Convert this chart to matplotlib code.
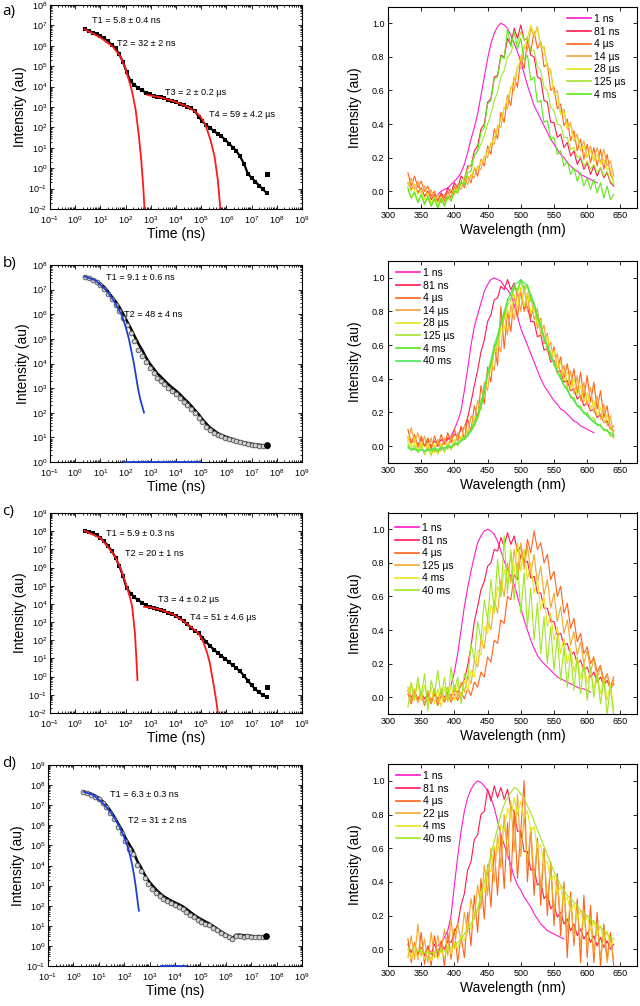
import numpy as np
import matplotlib.pyplot as plt
from matplotlib.ticker import LogLocator, NullFormatter, FormatStrFormatter, LogFormatterSciNotation

plt.rcParams['font.family'] = ['Liberation Sans', 'DejaVu Sans']
plt.rcParams['mathtext.default'] = 'regular'
plt.rcParams['axes.linewidth'] = 0.8

nan = np.nan

# ---- decay data (log10 of time in ns, log10 of intensity) ----
log_t = [0.38, 0.54, 0.70, 0.85, 1.00, 1.15, 1.30, 1.45, 1.60, 1.75,
         1.90, 2.04, 2.20, 2.34, 2.51, 2.65, 2.80, 2.95, 3.11, 3.26,
         3.40, 3.54, 3.70, 3.85, 4.00, 4.15, 4.30, 4.45, 4.60, 4.75,
         4.90, 5.04, 5.20, 5.34, 5.51, 5.65, 5.80, 5.95, 6.11, 6.26,
         6.40, 6.54, 6.70, 6.85, 7.00, 7.15, 7.30, 7.45, 7.60]

a_log_I = [6.81, 6.73, 6.65, 6.57, 6.48, 6.36, 6.22, 6.06, 5.88, 5.58,
           5.20, 4.70, 4.27, 4.08, 3.92, 3.81, 3.71, 3.63, 3.56, 3.51,
           3.47, 3.42, 3.36, 3.30, 3.24, 3.15, 3.08, 3.01, 2.93, 2.80,
           2.53, 2.30, 2.11, 1.98, 1.82, 1.69, 1.56, 1.40, 1.20, 1.01,
           0.84, 0.58, 0.22, -0.27, -0.47, -0.66, -0.85, -1.03, -1.23]
a_outlier_log_t = [7.60]
a_outlier_log_I = [-0.28]
a_fit1_log_t = [0.38, 1.00, 1.49, 1.80, 1.97, 2.13, 2.26, 2.40, 2.53, 2.62, 2.70, 2.75]
a_fit1_log_I = [6.81, 6.40, 5.96, 5.47, 4.98, 4.32, 3.75, 2.85, 1.55, 0.40, -0.90, -2.00]
a_fit2_log_t = [2.86, 3.39, 3.97, 4.44, 4.77, 4.97, 5.17, 5.37, 5.53, 5.66, 5.76]
a_fit2_log_I = [3.59, 3.47, 3.26, 3.02, 2.77, 2.53, 2.12, 1.38, 0.57, -0.58, -2.00]

b_top_log_I = [7.53, 7.49, 7.42, 7.34, 7.24, 7.11, 6.93, 6.72, 6.53, 6.30,
               6.02, 5.75, 5.44, 5.15, 4.80, 4.56, 4.27, 4.01, 3.80, 3.60,
               3.46, 3.32, 3.15, 3.02, 2.90, 2.76, 2.60, 2.45, 2.29, 2.11,
               1.94, 1.75, 1.56, 1.41, 1.28, 1.18, 1.10, 1.04, 0.98, 0.93,
               0.88, 0.84, 0.80, 0.77, 0.74, 0.72, 0.70, 0.68, 0.68]
b_low_log_I = [7.53, 7.47, 7.39, 7.30, 7.18, 7.03, 6.83, 6.60, 6.39, 6.14,
               5.84, 5.55, 5.22, 4.92, 4.56, 4.32, 4.05, 3.81, 3.61, 3.43,
               3.30, 3.17, 3.00, 2.87, 2.75, 2.61, 2.45, 2.30, 2.14, 1.97,
               1.80, 1.62, 1.44, 1.30, 1.18, 1.10, 1.04, 0.98, 0.93, 0.88,
               0.84, 0.80, 0.76, 0.73, 0.70, 0.68, 0.66, 0.64, 0.66]
b_fit_log_t = [0.38, 0.80, 1.21, 1.50, 1.83, 2.00, 2.13, 2.23, 2.33, 2.41, 2.49, 2.57, 2.65, 2.73]
b_fit_log_I = [7.53, 7.38, 7.00, 6.60, 6.00, 5.50, 5.00, 4.50, 4.00, 3.50, 3.00, 2.60, 2.30, 2.01]
b_fit2_log_t = [1.93, 4.97]
b_fit2_log_I = [0.0, 0.0]

c_log_I = [8.01, 7.96, 7.89, 7.79, 7.63, 7.44, 7.21, 6.91, 6.55, 6.10,
           5.52, 4.88, 4.57, 4.37, 4.20, 4.06, 3.93, 3.84, 3.77, 3.71,
           3.66, 3.60, 3.52, 3.43, 3.32, 3.20, 3.05, 2.87, 2.70, 2.53,
           2.38, 2.15, 1.91, 1.70, 1.48, 1.31, 1.14, 0.97, 0.80, 0.62,
           0.46, 0.30, 0.05, -0.22, -0.47, -0.70, -0.86, -1.02, -1.12]
c_outlier_log_t = [7.60]
c_outlier_log_I = [-0.58]
c_fit1_log_t = [0.38, 1.01, 1.54, 1.80, 2.00, 2.20, 2.26, 2.33, 2.37, 2.43, 2.47]
c_fit1_log_I = [8.01, 7.62, 6.71, 5.97, 5.15, 4.23, 3.86, 2.94, 2.39, 0.93, -0.19]
c_fit2_log_t = [2.73, 3.00, 3.40, 3.92, 4.31, 4.64, 4.85, 4.97, 5.10, 5.24, 5.34, 5.43, 5.50, 5.57, 5.62, 5.66]
c_fit2_log_I = [3.84, 3.80, 3.68, 3.40, 3.04, 2.67, 2.45, 2.20, 1.85, 1.29, 0.75, 0.05, -0.50, -1.09, -1.55, -2.00]

d_top_log_I = [7.68, 7.63, 7.57, 7.48, 7.37, 7.20, 7.01, 6.74, 6.45, 6.12,
               5.79, 5.40, 5.05, 4.77, 4.23, 3.94, 3.56, 3.26, 3.01, 2.80,
               2.63, 2.48, 2.36, 2.25, 2.16, 2.07, 1.97, 1.84, 1.69, 1.55,
               1.42, 1.32, 1.21, 1.12, 0.98, 0.86, 0.73, 0.61, 0.50, 0.38,
               0.55, 0.56, 0.52, 0.53, 0.50, 0.47, 0.49, 0.47, 0.50]
d_low_log_I = [7.68, 7.60, 7.52, 7.41, 7.29, 7.10, 6.89, 6.60, 6.29, 5.94,
               5.60, 5.20, 4.84, 4.55, 4.01, 3.72, 3.36, 3.07, 2.83, 2.63,
               2.47, 2.33, 2.22, 2.11, 2.02, 1.93, 1.83, 1.70, 1.56, 1.42,
               1.30, 1.20, 1.10, 1.02, 0.89, 0.78, 0.66, 0.55, 0.45, 0.33,
               0.50, 0.50, 0.45, 0.47, 0.44, 0.42, 0.44, 0.42, 0.47]
d_fit_log_t = [0.41, 0.80, 1.24, 1.55, 1.79, 1.97, 2.12, 2.23, 2.32, 2.39, 2.45, 2.50, 2.55, 2.58]
d_fit_log_I = [7.67, 7.50, 7.00, 6.50, 6.00, 5.50, 5.00, 4.50, 4.00, 3.50, 3.00, 2.50, 2.00, 1.75]
d_fit2_log_t = [3.43, 4.42]
d_fit2_log_I = [-1.0, -1.0]

# ---- spectra (normalised intensity vs wavelength in nm) ----
wl = [330, 335, 340, 345, 350, 355, 360, 365, 370, 375,
      380, 385, 390, 395, 400, 405, 410, 415, 420, 425,
      430, 435, 440, 445, 450, 455, 460, 465, 470, 475,
      480, 485, 490, 495, 500, 505, 510, 515, 520, 525,
      530, 535, 540, 545, 550, 555, 560, 565, 570, 575,
      580, 585, 590, 595, 600, 605, 610, 615, 620, 625,
      630, 635, 640]

a_labels = ['1 ns', '81 ns', '4 µs', '14 µs', '28 µs', '125 µs', '4 ms']
a_1ns = [nan, nan, nan, nan, nan, nan, nan, nan, nan, -0.02,
         0.00, 0.01, 0.02, 0.04, 0.06, 0.08, 0.11, 0.16, 0.23, 0.31,
         0.38, 0.46, 0.57, 0.68, 0.79, 0.88, 0.94, 0.98, 1.00, 0.99,
         0.97, 0.93, 0.88, 0.83, 0.77, 0.70, 0.63, 0.57, 0.51, 0.47,
         0.43, 0.39, 0.35, 0.31, 0.28, 0.25, 0.22, 0.20, 0.17, 0.15,
         0.13, 0.12, 0.10, 0.09, 0.08, 0.07, 0.06, 0.05, nan, nan,
         nan, nan, nan]
a_81ns = [0.05, 0.01, 0.04, -0.01, 0.02, -0.03, 0.00, -0.05, -0.02, -0.06,
          -0.01, -0.04, 0.02, -0.01, 0.05, 0.02, 0.09, 0.07, 0.15, 0.15,
          0.24, 0.27, 0.37, 0.40, 0.53, 0.55, 0.68, 0.69, 0.81, 0.80,
          0.91, 0.87, 0.97, 0.91, 0.99, 0.90, 0.91, 0.81, 0.80, 0.68,
          0.67, 0.54, 0.53, 0.41, 0.41, 0.32, 0.34, 0.26, 0.29, 0.21,
          0.24, 0.16, 0.20, 0.13, 0.17, 0.10, 0.15, 0.09, 0.14, 0.08,
          0.11, 0.05, 0.03]
a_4us = [0.11, 0.03, 0.09, 0.02, 0.06, 0.00, 0.03, -0.03, 0.00, -0.06,
         -0.02, -0.06, 0.00, -0.04, 0.03, -0.01, 0.06, 0.02, 0.09, 0.05,
         0.14, 0.09, 0.19, 0.15, 0.27, 0.22, 0.37, 0.31, 0.47, 0.41,
         0.57, 0.51, 0.68, 0.62, 0.80, 0.73, 0.90, 0.83, 0.95, 0.85,
         0.89, 0.74, 0.76, 0.60, 0.62, 0.49, 0.52, 0.39, 0.43, 0.30,
         0.36, 0.24, 0.31, 0.19, 0.28, 0.17, 0.26, 0.15, 0.25, 0.13,
         0.22, 0.10, 0.06]
a_14us = [0.03, 0.08, 0.01, 0.06, -0.01, 0.03, -0.03, 0.01, -0.06, -0.02,
          -0.07, -0.02, -0.05, 0.01, -0.02, 0.04, 0.01, 0.07, 0.04, 0.10,
          0.08, 0.15, 0.13, 0.21, 0.20, 0.29, 0.28, 0.39, 0.38, 0.50,
          0.49, 0.62, 0.60, 0.74, 0.73, 0.86, 0.84, 0.97, 0.92, 0.98,
          0.86, 0.86, 0.74, 0.72, 0.58, 0.60, 0.46, 0.49, 0.37, 0.41,
          0.30, 0.34, 0.24, 0.30, 0.20, 0.27, 0.18, 0.26, 0.17, 0.25,
          0.15, 0.18, 0.09]
a_28us = [0.05, 0.00, 0.04, -0.02, 0.01, -0.05, -0.01, -0.07, -0.03, -0.08,
          -0.04, -0.08, -0.03, -0.05, 0.01, -0.01, 0.05, 0.04, 0.09, 0.08,
          0.14, 0.13, 0.18, 0.19, 0.24, 0.27, 0.32, 0.37, 0.43, 0.49,
          0.55, 0.61, 0.67, 0.73, 0.79, 0.86, 0.91, 0.99, 0.93, 0.97,
          0.86, 0.85, 0.73, 0.71, 0.58, 0.57, 0.46, 0.47, 0.38, 0.39,
          0.30, 0.32, 0.25, 0.27, 0.20, 0.24, 0.18, 0.22, 0.16, 0.19,
          0.13, 0.14, 0.05]
a_125us = [0.01, -0.04, 0.00, -0.06, -0.02, -0.07, -0.04, -0.09, -0.05, -0.10,
           -0.05, -0.08, -0.03, -0.05, 0.00, 0.01, 0.06, 0.08, 0.13, 0.16,
           0.21, 0.24, 0.28, 0.33, 0.40, 0.46, 0.54, 0.59, 0.68, 0.72,
           0.80, 0.82, 0.89, 0.88, 0.95, 0.90, 0.92, 0.84, 0.84, 0.74,
           0.72, 0.62, 0.60, 0.50, 0.48, 0.40, 0.39, 0.32, 0.32, 0.25,
           0.26, 0.20, 0.21, 0.15, 0.18, 0.13, 0.16, 0.11, 0.14, 0.09,
           0.12, 0.06, 0.04]
a_4ms = [0.02, -0.04, -0.01, -0.07, -0.02, -0.08, -0.03, -0.09, -0.04, -0.10,
         -0.04, -0.09, -0.03, -0.06, 0.00, -0.01, 0.05, 0.04, 0.11, 0.12,
         0.21, 0.24, 0.35, 0.38, 0.52, 0.54, 0.67, 0.68, 0.80, 0.79,
         0.97, 0.86, 0.95, 0.85, 0.91, 0.78, 0.81, 0.66, 0.68, 0.53,
         0.54, 0.41, 0.42, 0.31, 0.32, 0.22, 0.24, 0.15, 0.18, 0.10,
         0.14, 0.06, 0.11, 0.03, 0.08, 0.01, 0.07, -0.01, 0.05, -0.04,
         0.03, -0.05, -0.02]

b_labels = ['1 ns', '81 ns', '4 µs', '14 µs', '28 µs', '125 µs', '4 ms', '40 ms']
b_1ns = [nan, nan, nan, nan, nan, nan, nan, nan, nan, 0.00,
         0.01, 0.02, 0.04, 0.06, 0.10, 0.15, 0.21, 0.33, 0.46, 0.60,
         0.71, 0.78, 0.85, 0.92, 0.96, 0.99, 1.00, 0.99, 0.98, 0.95,
         0.93, 0.90, 0.84, 0.77, 0.70, 0.65, 0.60, 0.55, 0.50, 0.45,
         0.40, 0.36, 0.33, 0.30, 0.27, 0.25, 0.22, 0.21, 0.19, 0.17,
         0.15, 0.14, 0.12, 0.11, 0.10, 0.09, 0.08, nan, nan, nan,
         nan, nan, nan]
b_81ns = [0.05, 0.02, 0.04, 0.01, 0.04, 0.00, 0.03, 0.00, 0.03, 0.01,
          0.04, 0.02, 0.05, 0.04, 0.07, 0.06, 0.10, 0.11, 0.17, 0.26,
          0.36, 0.45, 0.56, 0.63, 0.74, 0.78, 0.87, 0.88, 0.95, 0.93,
          0.99, 0.93, 0.97, 0.89, 0.91, 0.82, 0.83, 0.74, 0.74, 0.65,
          0.66, 0.57, 0.58, 0.50, 0.51, 0.44, 0.45, 0.38, 0.39, 0.33,
          0.34, 0.28, 0.30, 0.24, 0.26, 0.21, 0.22, 0.17, 0.19, 0.14,
          0.15, 0.10, 0.09]
b_4us = [0.10, 0.02, 0.07, -0.01, 0.06, 0.00, 0.05, -0.02, 0.06, 0.00,
         0.07, 0.01, 0.08, 0.02, 0.10, 0.03, 0.12, 0.04, 0.16, 0.09,
         0.24, 0.16, 0.36, 0.25, 0.47, 0.38, 0.60, 0.48, 0.83, 0.58,
         0.80, 0.68, 0.90, 0.76, 0.94, 0.80, 0.91, 0.76, 0.85, 0.70,
         0.76, 0.61, 0.67, 0.52, 0.59, 0.45, 0.53, 0.40, 0.49, 0.36,
         0.46, 0.31, 0.44, 0.28, 0.42, 0.26, 0.38, 0.22, 0.33, 0.17,
         0.24, 0.10, 0.12]
b_14us = [0.03, 0.11, 0.02, 0.08, -0.01, 0.06, -0.03, 0.05, -0.04, 0.04,
          -0.03, 0.05, -0.02, 0.06, 0.00, 0.08, 0.03, 0.12, 0.07, 0.18,
          0.14, 0.27, 0.22, 0.38, 0.33, 0.50, 0.45, 0.62, 0.56, 0.80,
          0.66, 0.84, 0.75, 0.92, 0.80, 0.95, 0.80, 0.90, 0.75, 0.82,
          0.66, 0.72, 0.56, 0.62, 0.48, 0.55, 0.41, 0.48, 0.35, 0.45,
          0.31, 0.42, 0.27, 0.38, 0.24, 0.35, 0.20, 0.30, 0.16, 0.25,
          0.12, 0.18, 0.05]
b_28us = [0.06, -0.01, 0.05, -0.03, 0.03, -0.05, 0.02, -0.06, 0.01, -0.05,
          0.02, -0.04, 0.03, -0.02, 0.04, 0.00, 0.06, 0.04, 0.10, 0.09,
          0.17, 0.18, 0.28, 0.30, 0.42, 0.44, 0.56, 0.57, 0.70, 0.69,
          0.81, 0.77, 0.90, 0.82, 0.94, 0.83, 0.91, 0.79, 0.84, 0.71,
          0.75, 0.62, 0.66, 0.53, 0.57, 0.45, 0.50, 0.39, 0.44, 0.34,
          0.40, 0.30, 0.36, 0.26, 0.32, 0.22, 0.27, 0.18, 0.23, 0.14,
          0.19, 0.10, 0.08]
b_125us = [0.02, -0.03, 0.01, -0.04, 0.00, -0.05, -0.01, -0.05, -0.01, -0.04,
           0.00, -0.03, 0.01, -0.02, 0.02, 0.01, 0.04, 0.04, 0.07, 0.09,
           0.13, 0.17, 0.24, 0.31, 0.42, 0.47, 0.58, 0.62, 0.72, 0.76,
           0.84, 0.86, 0.94, 0.91, 0.98, 0.92, 0.95, 0.86, 0.85, 0.75,
           0.72, 0.63, 0.60, 0.52, 0.50, 0.43, 0.42, 0.36, 0.35, 0.29,
           0.29, 0.24, 0.24, 0.19, 0.20, 0.16, 0.17, 0.12, 0.13, 0.09,
           0.10, 0.06, 0.05]
b_4ms = [0.00, -0.02, -0.01, -0.03, -0.02, -0.03, -0.02, -0.03, -0.02, -0.03,
         -0.01, -0.02, 0.00, -0.01, 0.01, 0.01, 0.03, 0.04, 0.06, 0.09,
         0.12, 0.17, 0.23, 0.32, 0.43, 0.49, 0.58, 0.64, 0.73, 0.78,
         0.86, 0.88, 0.95, 0.93, 0.99, 0.94, 0.96, 0.88, 0.84, 0.76,
         0.71, 0.64, 0.59, 0.53, 0.49, 0.44, 0.41, 0.36, 0.34, 0.29,
         0.28, 0.24, 0.23, 0.20, 0.19, 0.16, 0.15, 0.13, 0.12, 0.10,
         0.09, 0.07, 0.06]
b_40ms = [-0.01, -0.02, -0.02, -0.03, -0.02, -0.03, -0.02, -0.02, -0.01, -0.02,
          -0.01, -0.01, 0.00, 0.00, 0.01, 0.02, 0.03, 0.05, 0.07, 0.10,
          0.14, 0.19, 0.26, 0.34, 0.44, 0.51, 0.60, 0.66, 0.74, 0.80,
          0.87, 0.91, 0.96, 0.97, 0.99, 0.97, 0.95, 0.90, 0.85, 0.78,
          0.72, 0.65, 0.60, 0.54, 0.49, 0.44, 0.40, 0.36, 0.33, 0.30,
          0.27, 0.24, 0.22, 0.20, 0.18, 0.16, 0.14, 0.13, 0.12, 0.10,
          0.09, 0.08, 0.07]

c_labels = ['1 ns', '81 ns', '4 µs', '125 µs', '4 ms', '40 ms']
c_1ns = [nan, nan, nan, nan, nan, nan, nan, nan, nan, nan,
         nan, nan, nan, 0.07, 0.15, 0.26, 0.40, 0.54, 0.65, 0.75,
         0.84, 0.92, 0.96, 0.99, 1.00, 0.99, 0.97, 0.93, 0.87, 0.81,
         0.76, 0.72, 0.67, 0.60, 0.53, 0.46, 0.40, 0.34, 0.29, 0.25,
         0.22, 0.20, 0.18, 0.16, 0.14, 0.12, 0.11, 0.10, 0.09, 0.08,
         0.07, 0.06, 0.05, 0.05, 0.04, 0.03, nan, nan, nan, nan,
         nan, nan, nan]
c_81ns = [0.04, 0.00, 0.03, -0.01, 0.03, -0.01, 0.02, -0.02, 0.02, -0.01,
          0.03, 0.00, 0.03, 0.01, 0.04, 0.03, 0.07, 0.10, 0.19, 0.30,
          0.45, 0.54, 0.64, 0.69, 0.78, 0.80, 0.88, 0.87, 0.95, 0.90,
          0.98, 0.91, 0.96, 0.87, 0.90, 0.80, 0.81, 0.71, 0.72, 0.62,
          0.62, 0.53, 0.53, 0.45, 0.45, 0.37, 0.38, 0.31, 0.32, 0.25,
          0.27, 0.20, 0.22, 0.16, 0.18, 0.12, 0.15, 0.09, 0.12, 0.07,
          0.10, 0.05, 0.08]
c_4us = [0.02, -0.04, 0.03, -0.03, 0.02, -0.05, 0.01, -0.04, 0.02, -0.05,
         0.01, -0.03, 0.02, -0.03, 0.02, -0.02, 0.03, -0.01, 0.05, 0.01,
         0.09, 0.06, 0.15, 0.12, 0.24, 0.21, 0.34, 0.32, 0.46, 0.44,
         0.60, 0.58, 0.73, 0.70, 0.85, 0.80, 0.94, 0.86, 0.99, 0.88,
         0.92, 0.80, 0.85, 0.70, 0.75, 0.60, 0.66, 0.50, 0.56, 0.41,
         0.47, 0.33, 0.38, 0.26, 0.30, 0.20, 0.24, 0.15, 0.19, 0.10,
         0.14, 0.06, 0.12]
c_125us = [0.06, -0.02, 0.05, -0.03, 0.04, -0.04, 0.04, -0.03, 0.05, -0.03,
           0.05, -0.02, 0.06, -0.01, 0.07, 0.00, 0.09, 0.03, 0.13, 0.08,
           0.22, 0.18, 0.34, 0.29, 0.46, 0.40, 0.58, 0.50, 0.70, 0.60,
           0.80, 0.68, 0.88, 0.74, 0.92, 0.76, 0.90, 0.74, 0.85, 0.68,
           0.78, 0.61, 0.70, 0.53, 0.62, 0.45, 0.54, 0.38, 0.46, 0.31,
           0.39, 0.25, 0.33, 0.20, 0.28, 0.15, 0.23, 0.11, 0.18, 0.07,
           0.14, 0.03, 0.10]
c_4ms = [0.02, 0.09, 0.00, 0.08, -0.02, 0.07, -0.03, 0.06, -0.04, 0.05,
         -0.06, 0.06, -0.03, 0.07, -0.02, 0.08, 0.00, 0.10, 0.04, 0.16,
         0.12, 0.28, 0.25, 0.42, 0.38, 0.55, 0.50, 0.66, 0.60, 0.76,
         0.68, 0.86, 0.74, 0.92, 0.75, 0.88, 0.70, 0.80, 0.62, 0.70,
         0.52, 0.60, 0.42, 0.50, 0.34, 0.42, 0.26, 0.35, 0.20, 0.29,
         0.15, 0.24, 0.11, 0.20, 0.08, 0.17, 0.05, 0.14, 0.02, 0.11,
         -0.02, 0.08, -0.08]
c_40ms = [-0.06, 0.08, -0.02, 0.12, 0.00, 0.14, -0.08, 0.10, 0.02, 0.16,
          0.00, 0.12, -0.02, 0.18, 0.04, 0.12, -0.04, 0.14, 0.10, 0.32,
          0.22, 0.45, 0.34, 0.58, 0.46, 0.70, 0.52, 0.82, 0.60, 0.96,
          0.62, 0.88, 0.58, 0.80, 0.50, 0.74, 0.42, 0.65, 0.34, 0.56,
          0.26, 0.48, 0.20, 0.42, 0.16, 0.36, 0.10, 0.30, 0.06, 0.26,
          0.04, 0.24, 0.02, 0.20, -0.02, 0.18, 0.00, 0.14, -0.04, 0.10,
          -0.10, 0.06, -0.12]

d_labels = ['1 ns', '81 ns', '4 µs', '22 µs', '4 ms', '40 ms']
d_1ns = [nan, nan, nan, nan, nan, nan, nan, nan, nan, 0.02,
         0.04, 0.07, 0.11, 0.20, 0.38, 0.55, 0.70, 0.82, 0.90, 0.95,
         0.98, 1.00, 0.99, 0.97, 0.94, 0.90, 0.84, 0.76, 0.68, 0.62,
         0.56, 0.50, 0.43, 0.38, 0.35, 0.31, 0.28, 0.25, 0.21, 0.18,
         0.15, 0.13, 0.11, 0.10, 0.09, 0.08, 0.07, 0.06, nan, nan,
         nan, nan, nan, nan, nan, nan, nan, nan, nan, nan,
         nan, nan, nan]
d_81ns = [0.03, -0.02, 0.02, -0.03, 0.01, -0.04, 0.02, -0.03, 0.03, -0.02,
          0.03, 0.00, 0.05, 0.04, 0.10, 0.15, 0.26, 0.33, 0.47, 0.52,
          0.65, 0.68, 0.80, 0.82, 0.95, 0.88, 0.97, 0.90, 0.96, 0.89,
          0.95, 0.84, 0.82, 0.70, 0.70, 0.58, 0.58, 0.47, 0.48, 0.38,
          0.40, 0.30, 0.33, 0.24, 0.27, 0.19, 0.22, 0.15, 0.18, 0.11,
          0.15, 0.08, 0.12, 0.06, 0.10, 0.04, 0.08, 0.02, 0.07, 0.01,
          0.05, 0.00, 0.03]
d_4us = [0.06, -0.08, 0.04, -0.06, 0.10, -0.09, 0.02, -0.10, 0.08, -0.05,
         0.05, -0.10, 0.10, -0.06, 0.12, -0.08, 0.08, -0.05, 0.22, 0.02,
         0.32, 0.10, 0.42, 0.18, 0.50, 0.25, 0.60, 0.32, 0.68, 0.36,
         0.75, 0.40, 0.82, 0.42, 0.70, 1.00, 0.40, 0.72, 0.32, 0.66,
         0.26, 0.60, 0.20, 0.52, 0.14, 0.45, 0.08, 0.40, -0.05, 0.34,
         0.02, 0.30, -0.08, 0.32, -0.05, 0.26, -0.08, 0.22, -0.10, 0.15,
         -0.06, 0.10, -0.10]
d_22us = [-0.05, 0.08, -0.06, 0.15, -0.04, 0.06, -0.08, 0.10, -0.05, 0.08,
          -0.02, 0.12, -0.04, 0.18, 0.00, 0.16, 0.04, 0.22, 0.10, 0.30,
          0.18, 0.38, 0.24, 0.50, 0.32, 0.60, 0.40, 0.68, 0.48, 0.80,
          0.55, 0.88, 0.58, 0.92, 0.55, 0.80, 0.50, 0.72, 0.42, 0.64,
          0.36, 0.58, 0.28, 0.50, 0.22, 0.42, 0.16, 0.36, 0.10, 0.30,
          0.06, 0.26, 0.02, 0.22, 0.00, 0.18, -0.03, 0.15, -0.05, 0.10,
          -0.08, 0.06, -0.06]
d_4ms = [0.00, -0.06, 0.02, -0.05, 0.00, -0.06, -0.01, -0.07, -0.02, -0.06,
         0.00, -0.05, 0.02, -0.03, 0.04, 0.00, 0.08, 0.05, 0.14, 0.12,
         0.22, 0.22, 0.34, 0.34, 0.48, 0.46, 0.61, 0.58, 0.74, 0.70,
         0.84, 0.78, 0.90, 0.80, 0.88, 0.78, 0.82, 0.70, 0.73, 0.60,
         0.62, 0.50, 0.52, 0.41, 0.44, 0.33, 0.37, 0.27, 0.31, 0.22,
         0.27, 0.18, 0.23, 0.14, 0.20, 0.11, 0.17, 0.08, 0.14, 0.05,
         0.11, 0.02, 0.06]
d_40ms = [0.00, 0.00, -0.01, -0.01, -0.01, -0.02, -0.02, -0.02, -0.02, -0.01,
          -0.01, -0.01, 0.00, 0.01, 0.02, 0.04, 0.06, 0.09, 0.12, 0.15,
          0.19, 0.24, 0.31, 0.40, 0.48, 0.56, 0.64, 0.72, 0.80, 0.86,
          0.90, 0.93, 0.96, 0.95, 0.92, 0.90, 0.85, 0.81, 0.76, 0.71,
          0.66, 0.61, 0.56, 0.51, 0.46, 0.42, 0.38, 0.35, 0.32, 0.30,
          0.28, 0.26, 0.23, 0.21, 0.20, 0.18, 0.16, 0.14, 0.13, 0.11,
          0.09, 0.07, 0.06]

colors = ['#FF1ACD', '#FF1A4F', '#FF6319', '#F5A33A', '#E6E619', '#A6E62A', '#5CE619', '#45E85A']
colors_cd = ['#FF1ACD', '#FF1A4F', '#FF6319', '#F0A830', '#E6E619', '#A0E626']

W, H = 640, 1006
fig = plt.figure(figsize=(W / 100, H / 100), dpi=100)


def px_axes(left, top, right, bottom):
    return fig.add_axes([left / W, 1 - bottom / H, (right - left) / W, (bottom - top) / H])


def lg(v):
    return 10.0 ** np.asarray(v, dtype=float)


def style_decay(ax, ylo, yhi):
    ax.set_xscale('log')
    ax.set_yscale('log')
    ax.set_xlim(1e-1, 1e9)
    ax.set_ylim(10.0 ** ylo, 10.0 ** yhi)
    # only decades inside the limits get a label
    ax.set_xticks(10.0 ** np.arange(-1, 10))
    ax.set_yticks(10.0 ** np.arange(ylo, yhi + 1))
    for axis in (ax.xaxis, ax.yaxis):
        axis.set_major_formatter(LogFormatterSciNotation())
        axis.set_minor_locator(LogLocator(base=10, subs=np.arange(2, 10), numticks=30))
        axis.set_minor_formatter(NullFormatter())
    ax.set_xlim(1e-1, 1e9)
    ax.set_ylim(10.0 ** ylo, 10.0 ** yhi)
    ax.tick_params(which='both', direction='in', top=True, right=True, labelsize=6.5, width=0.6)
    ax.tick_params(axis='x', which='major', pad=3.5)
    ax.tick_params(axis='y', which='major', pad=2)
    ax.tick_params(which='major', length=3)
    ax.tick_params(which='minor', length=1.5)
    ax.set_xlabel('Time (ns)', fontsize=10, labelpad=1)
    ax.set_ylabel('Intensity (au)', fontsize=10, labelpad=1)


def style_spec(ax):
    ax.set_xlim(300, 675)
    ax.set_ylim(-0.1, 1.1)
    ax.set_xticks(range(300, 651, 50))
    ax.set_yticks([0.0, 0.2, 0.4, 0.6, 0.8, 1.0])
    ax.yaxis.set_major_formatter(FormatStrFormatter('%.1f'))
    ax.tick_params(direction='in', top=True, right=True, labelsize=6.5, width=0.6, length=3, pad=2.5)
    ax.set_xlabel('Wavelength (nm)', fontsize=10, labelpad=2)
    ax.set_ylabel('Intensity (au)', fontsize=10, labelpad=7)


def spectra(ax, series, labels, cols, anchor):
    for y, lab, col in zip(series, labels, cols):
        ax.plot(wl, y, color=col, lw=0.8, label=lab)
    style_spec(ax)
    leg = ax.legend(loc='upper left', bbox_to_anchor=anchor, frameon=False, fontsize=7.5,
                    handlelength=2.3, handletextpad=0.3, labelspacing=0.25,
                    borderpad=0, borderaxespad=0)
    for line in leg.get_lines():
        line.set_linewidth(1.2)


def texts(ax, items):
    for x, y, s in items:
        ax.text(x, y, s, transform=ax.transAxes, fontsize=6.6, va='center')


t = lg(log_t)
red = '#FF1A1A'
blue = '#1F3FD0'

# a) decay
axa = px_axes(50, 5, 302, 209)
axa.plot(t, lg(a_log_I), color='k', lw=1.6, marker='s', ms=3.4, mew=0)
axa.plot(lg(a_outlier_log_t), lg(a_outlier_log_I), 's', color='k', ms=3.6, mew=0)
axa.plot(lg(a_fit1_log_t), lg(a_fit1_log_I), color=red, lw=1.3, zorder=5)
axa.plot(lg(a_fit2_log_t), lg(a_fit2_log_I), color=red, lw=1.3, zorder=5)
style_decay(axa, -2, 8)
texts(axa, [(0.167, 0.926, 'T1 = 5.8 ± 0.4 ns'), (0.266, 0.809, 'T2 = 32 ± 2 ns'),
            (0.456, 0.569, 'T3 = 2 ± 0.2 µs'), (0.631, 0.461, 'T4 = 59 ± 4.2 µs')])

# b) decay
axb = px_axes(50, 265, 302, 462)
axb.plot(t, lg(b_top_log_I), color='k', lw=1.8)
axb.plot(t, lg(b_low_log_I), 'o', ls='none', ms=3.4, mfc='#D0D0D0', mec='#505050', mew=0.6)
axb.plot(t[-1:], lg(b_top_log_I[-1:]), 'o', color='k', ms=3.8)
axb.plot(lg(b_fit_log_t), lg(b_fit_log_I), color=blue, lw=1.3, zorder=5)
axb.plot(lg(b_fit2_log_t), lg(b_fit2_log_I), color=blue, lw=1.3, zorder=5, clip_on=False)
style_decay(axb, 0, 8)
texts(axb, [(0.222, 0.939, 'T1 = 9.1 ± 0.6 ns'), (0.294, 0.751, 'T2 = 48 ± 4 ns')])

# c) decay
axc = px_axes(50, 513, 302, 713)
axc.plot(t, lg(c_log_I), color='k', lw=1.6, marker='s', ms=3.4, mew=0)
axc.plot(lg(c_outlier_log_t), lg(c_outlier_log_I), 's', color='k', ms=3.6, mew=0)
axc.plot(lg(c_fit1_log_t), lg(c_fit1_log_I), color=red, lw=1.3, zorder=5)
axc.plot(lg(c_fit2_log_t), lg(c_fit2_log_I), color=red, lw=1.3, zorder=5)
style_decay(axc, -2, 9)
texts(axc, [(0.222, 0.90, 'T1 = 5.9 ± 0.3 ns'), (0.298, 0.80, 'T2 = 20 ± 1 ns'),
            (0.429, 0.565, 'T3 = 4 ± 0.2 µs'), (0.556, 0.475, 'T4 = 51 ± 4.6 µs')])

# d) decay
axd = px_axes(48, 765, 302, 966)
axd.plot(t, lg(d_top_log_I), color='k', lw=1.8)
axd.plot(t, lg(d_low_log_I), 'o', ls='none', ms=3.4, mfc='#D0D0D0', mec='#505050', mew=0.6)
axd.plot(t[-1:], lg(d_top_log_I[-1:]), 'o', color='k', ms=3.8)
axd.plot(lg(d_fit_log_t), lg(d_fit_log_I), color=blue, lw=1.3, zorder=5)
axd.plot(lg(d_fit2_log_t), lg(d_fit2_log_I), color=blue, lw=1.3, zorder=5, clip_on=False)
style_decay(axd, -1, 9)
texts(axd, [(0.244, 0.851, 'T1 = 6.3 ± 0.3 ns'), (0.315, 0.726, 'T2 = 31 ± 2 ns')])

# spectra
sa = px_axes(388, 6.5, 637, 208)
spectra(sa, [a_1ns, a_81ns, a_4us, a_14us, a_28us, a_125us, a_4ms], a_labels, colors, (0.719, 0.963))
sb = px_axes(388, 261, 637, 463)
spectra(sb, [b_1ns, b_81ns, b_4us, b_14us, b_28us, b_125us, b_4ms, b_40ms], b_labels, colors, (0.032, 0.965))
sc = px_axes(388, 512.5, 637, 714)
spectra(sc, [c_1ns, c_81ns, c_4us, c_125us, c_4ms, c_40ms], c_labels, colors_cd, (0.028, 0.948))
sd = px_axes(388, 764, 637, 966)
spectra(sd, [d_1ns, d_81ns, d_4us, d_22us, d_4ms, d_40ms], d_labels, colors_cd, (0.032, 0.965))

for s, y in [('a)', 12), ('b)', 263), ('c)', 512), ('d)', 763)]:
    fig.text(0.004, 1 - y / H, s, fontsize=11, family=['Open Sans', 'DejaVu Sans'], va='center')

fig.savefig('out.png', dpi=100)
